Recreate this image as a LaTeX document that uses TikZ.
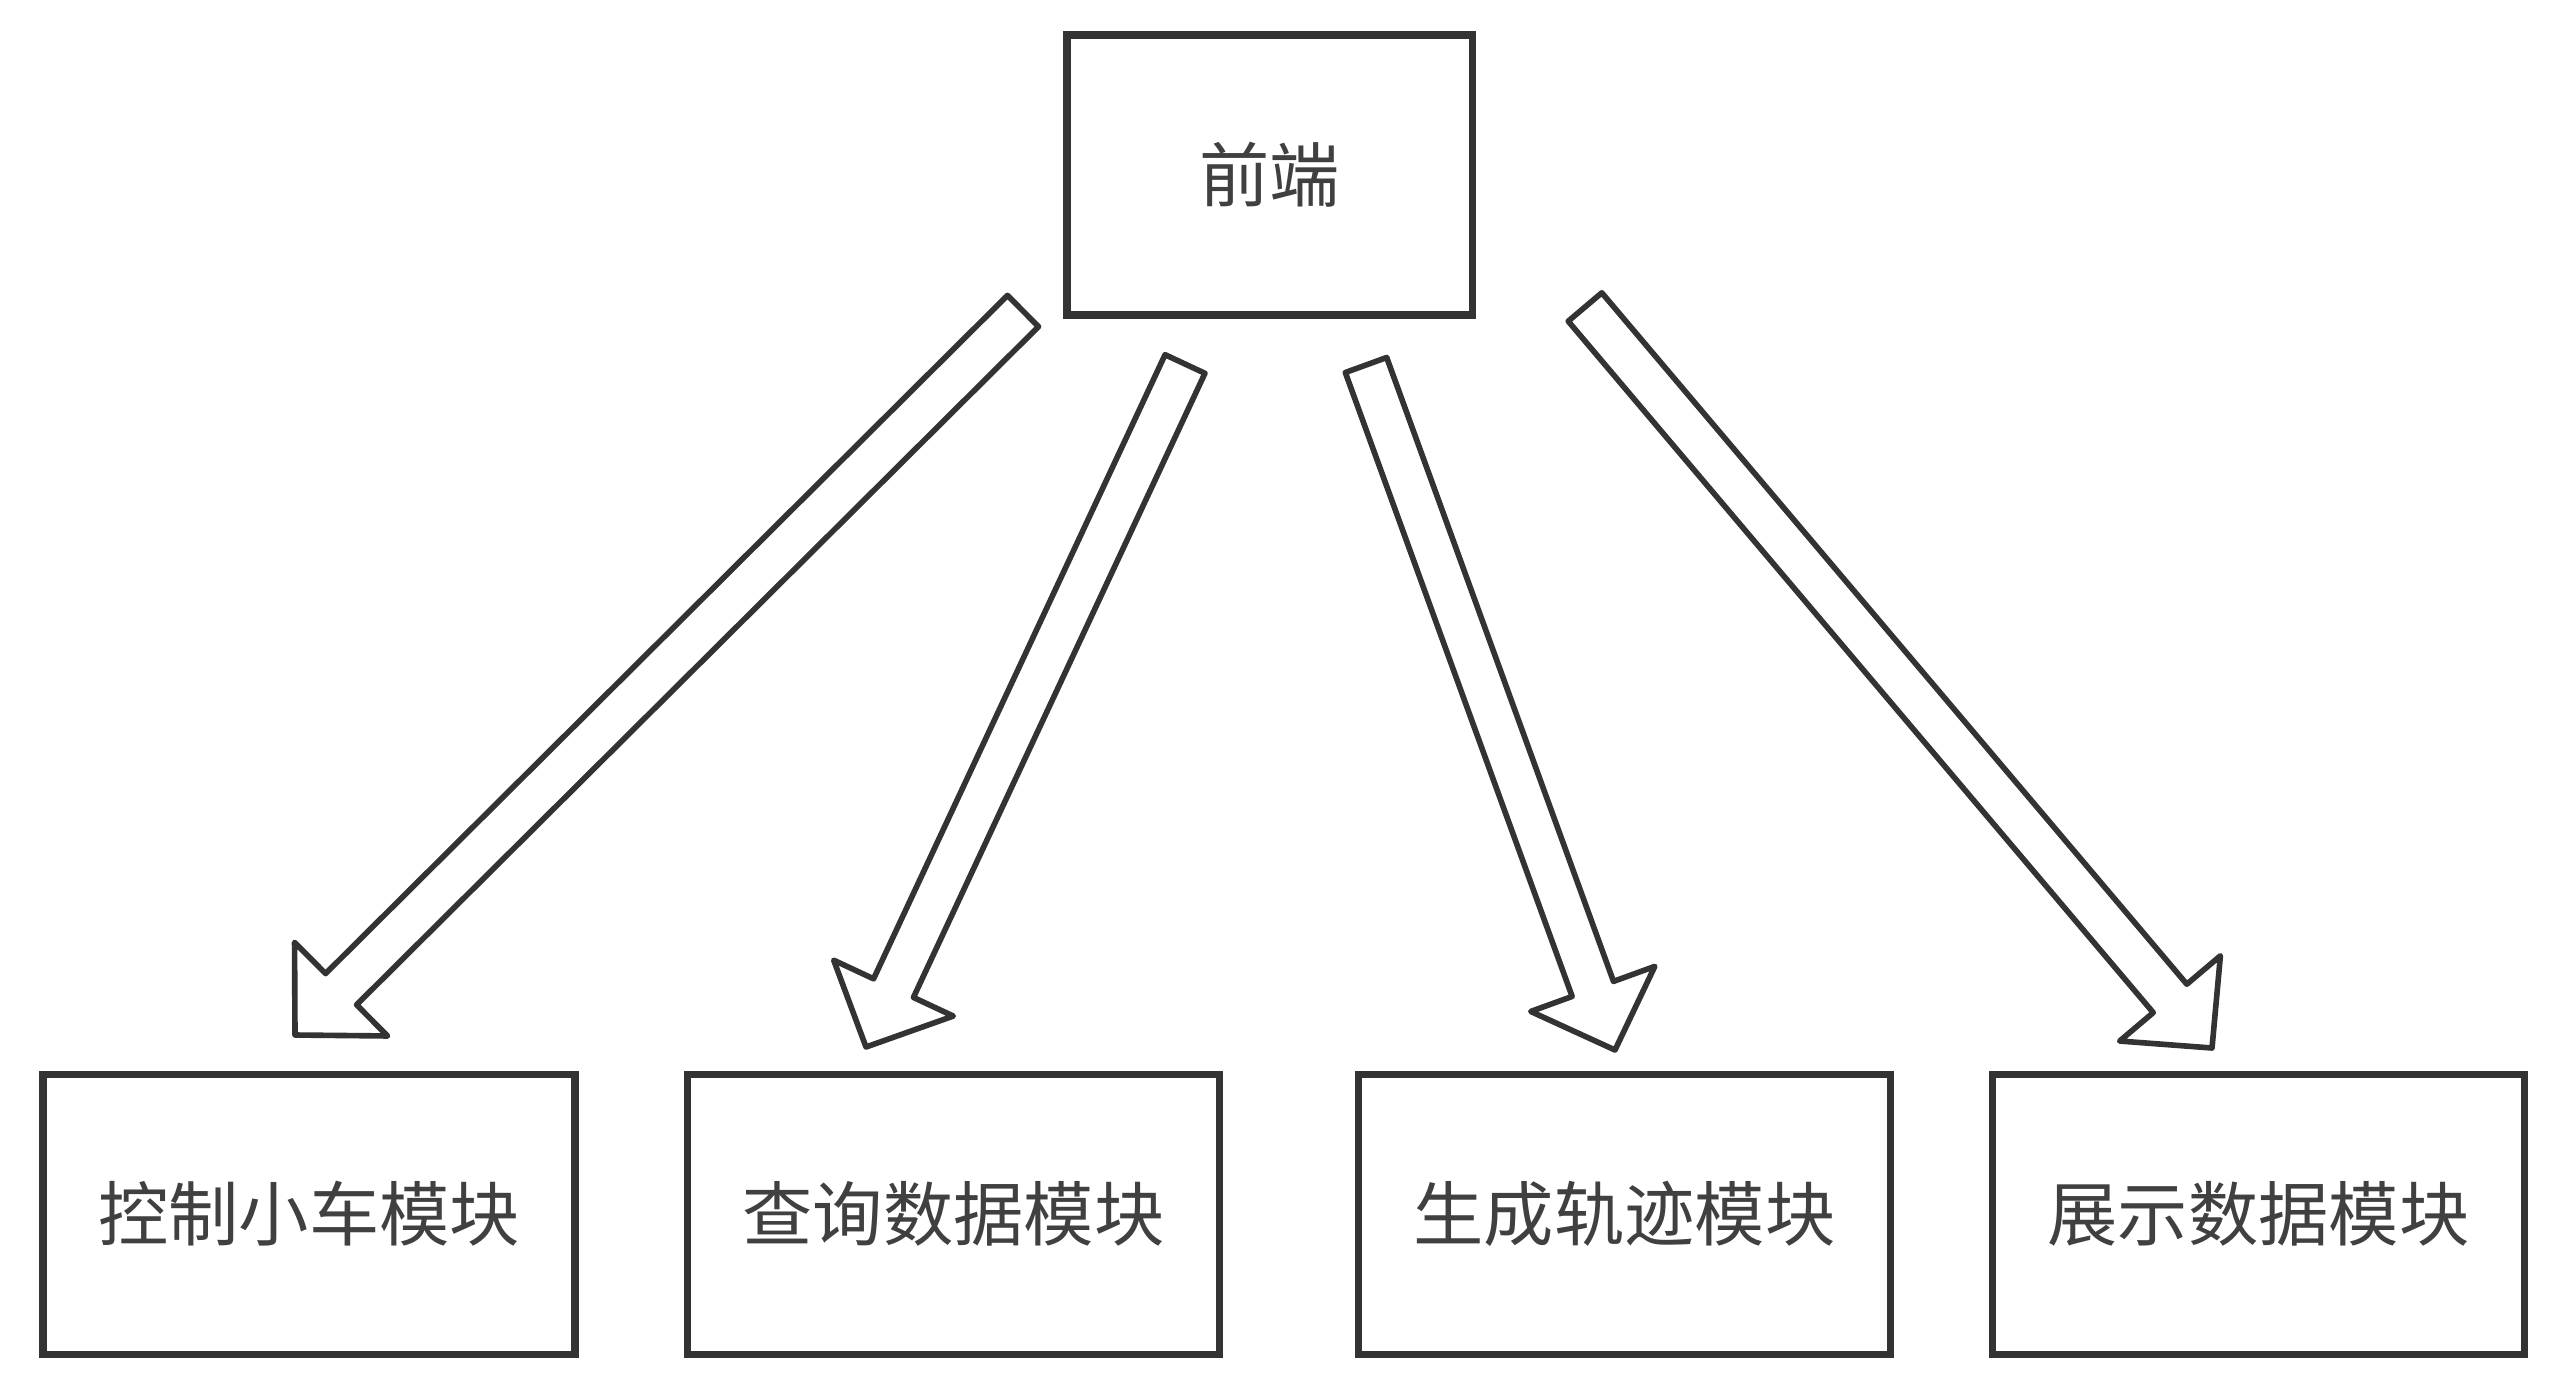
\documentclass[tikz,border=0pt]{standalone}
\usepackage{fontspec}
\setmainfont{Noto Sans CJK SC}
\usetikzlibrary{calc,positioning}
\definecolor{linegray}{HTML}{333333}
\definecolor{textgray}{HTML}{404040}

% hollow block arrow from tail (#1) to tip (#2)
\newcommand{\flexarrow}[2]{%
	\coordinate (hb) at ($(#2)!0.65cm!(#1)$);
	\draw[arrowline] ($(#1)!0.22cm!90:(#2)$) -- ($(hb)!0.22cm!90:(#2)$) -- ($(hb)!0.66cm!90:(#2)$) -- (#2)
		-- ($(hb)!0.66cm!-90:(#2)$) -- ($(hb)!0.22cm!-90:(#2)$) -- ($(#1)!0.22cm!-90:(#2)$) -- cycle;
}

\begin{document}
\begin{tikzpicture}[
	modbox/.style={draw=linegray, line width=2pt, fill=white, minimum width=5.32cm, minimum height=2.8cm, inner sep=0pt, text=textgray, font=\fontsize{20}{24}\selectfont},
	arrowline/.style={draw=linegray, line width=1.6pt, fill=white, line join=round}
]
	\useasboundingbox (0,0) rectangle (25.6,-13.82);
	
%前端
	\node[modbox, minimum width=4.05cm] (fe) at (12.695,-1.75) {前端};
	
%模块
	\node[modbox] (ctrl) at (3.09,-12.14) {控制小车模块};
	\node[modbox] (query) at (9.535,-12.14) {查询数据模块};
	\node[modbox] (track) at (16.245,-12.14) {生成轨迹模块};
	\node[modbox] (show) at (22.585,-12.14) {展示数据模块};
	
%箭头
	\coordinate (t1) at (10.23,-3.11);  \coordinate (h1) at (2.95,-10.35);
	\coordinate (t2) at (11.85,-3.64);  \coordinate (h2) at (8.66,-10.47);
	\coordinate (t3) at (13.66,-3.65);  \coordinate (h3) at (16.15,-10.5);
	\coordinate (t4) at (15.85,-3.07);  \coordinate (h4) at (22.12,-10.48);
	\flexarrow{t1}{h1}
	\flexarrow{t2}{h2}
	\flexarrow{t3}{h3}
	\flexarrow{t4}{h4}
\end{tikzpicture}
\end{document}
